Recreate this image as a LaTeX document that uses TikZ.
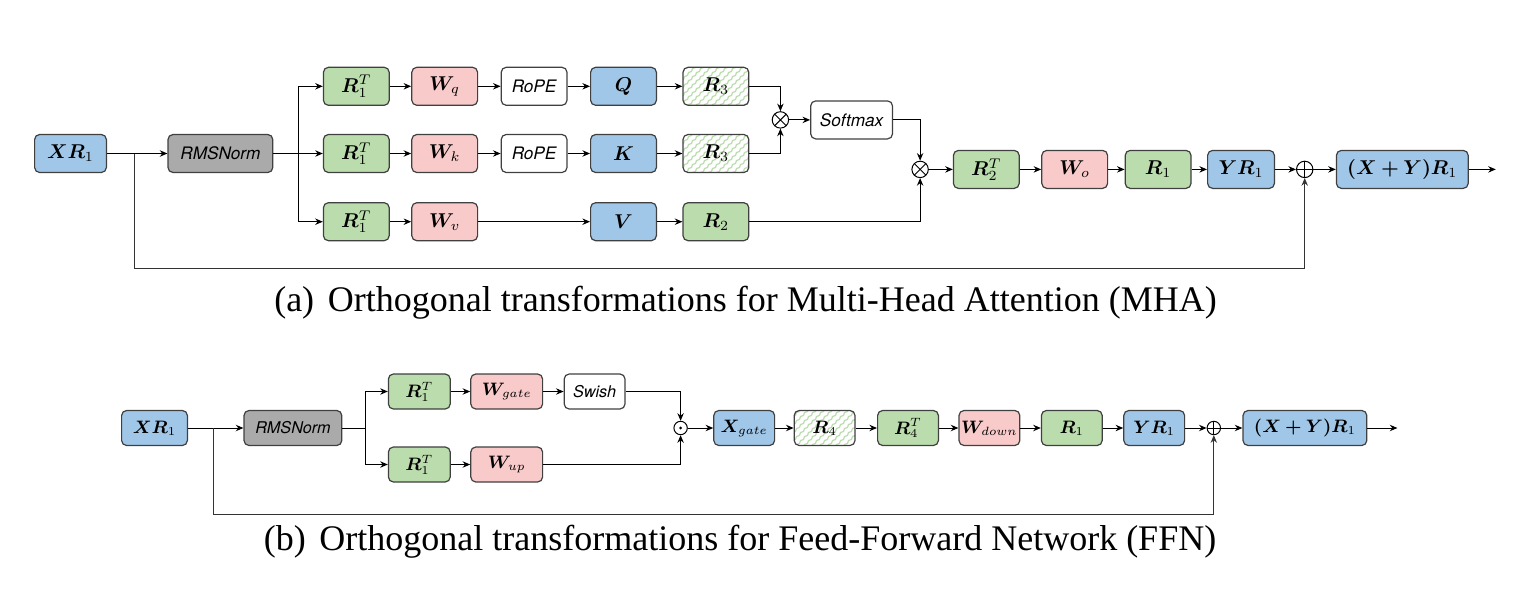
\documentclass[tikz,border=0pt]{standalone}
\usepackage{amsmath}
\usepackage{bm}
\usepackage{fontspec}
\newfontfamily\myCaptionFont{Liberation Serif}
\newfontfamily\myLabelFont{TeX Gyre Heros}
\usetikzlibrary{arrows.meta, calc, patterns, positioning}
\newlength{\myrulewidth}
\setlength{\myrulewidth}{0.6pt}
\definecolor{myblue}{RGB}{160,198,232}
\definecolor{mygreen}{RGB}{187,220,172}
\definecolor{mypink}{RGB}{248,202,202}
\definecolor{mygray}{RGB}{170,170,170}
% diagonal squiggles for the hatched boxes
\pgfdeclarepatternformonly{my waves}{\pgfqpoint{-0.5pt}{-0.5pt}}{\pgfqpoint{4.5pt}{4.5pt}}{\pgfqpoint{4pt}{4pt}}{%
  \pgfsetlinewidth{0.6pt}%
  \pgfpathmoveto{\pgfqpoint{0pt}{0pt}}%
  \pgfpathcurveto{\pgfqpoint{-0.23pt}{1.57pt}}{\pgfqpoint{2.23pt}{0.43pt}}{\pgfqpoint{2pt}{2pt}}%
  \pgfpathcurveto{\pgfqpoint{1.77pt}{3.57pt}}{\pgfqpoint{4.23pt}{2.43pt}}{\pgfqpoint{4pt}{4pt}}%
  \pgfusepath{stroke}%
}

\begin{document}
\begin{tikzpicture}[my rule/.style={line width=\myrulewidth},
                    my box/.style={
                      my rule, draw=black!75, rounded corners=2.5pt, inner sep=1pt,
                      minimum width=32.9pt, minimum height=19pt,
                      font=\fontsize{10}{12}\selectfont},
                    my small box/.style={
                      my box, minimum width=30.4pt, minimum height=17.5pt,
                      font=\fontsize{9}{11}\selectfont},
                    my blue/.style={fill=myblue},
                    my green/.style={fill=mygreen},
                    my pink/.style={fill=mypink},
                    my gray/.style={fill=mygray},
                    my wavy/.style={pattern=my waves, pattern color=mygreen},
                    my label/.style={font=\myLabelFont\itshape\fontsize{8.6}{10}\selectfont},
                    my small label/.style={font=\myLabelFont\itshape\fontsize{8.1}{9}\selectfont},
                    my caption/.style={font=\myCaptionFont\fontsize{18}{21}\selectfont,
                      inner sep=0pt, anchor=base},
                    my arrow/.style={-{Stealth[length=3.8pt, width=3.2pt]}, line width=0.5pt},
                    my line/.style={line width=0.5pt},
                    my op/.style={circle, draw, line width=0.5pt, inner sep=0pt,
                      minimum size=8.2pt, fill=white},
                    my times/.style={my op, path picture={
                      \draw[black, line width=0.5pt]
                        (path picture bounding box.north west) --
                        (path picture bounding box.south east)
                        (path picture bounding box.north east) --
                        (path picture bounding box.south west);}},
                    my plus/.style={my op, path picture={
                      \draw[black, line width=0.5pt]
                        (path picture bounding box.north) --
                        (path picture bounding box.south)
                        (path picture bounding box.west) --
                        (path picture bounding box.east);}},
                    my dot/.style={my op, minimum size=6.7pt, path picture={
                      \fill[black] (path picture bounding box.center) circle (0.8pt);}}]

\useasboundingbox (0,0) rectangle (759.5pt,-297pt);

% (a) attention
\node[my box, my blue, minimum width=35.9pt] (xa) at (35.25pt,-76.75pt) {$\bm{XR}_1$};
\node[my box, my gray, my label, minimum width=52.4pt, right=30.2pt of xa] (norma) {RMSNorm};

\node[my box, my green, right=24.7pt of norma] (rk1) {$\bm{R}_1^T$};
\node[my box, my pink, right=10.7pt of rk1] (wk) {$\bm{W}_k$};
\node[my box, my label, right=11.2pt of wk] (ropek) {RoPE};
\node[my box, my blue, right=11.2pt of ropek] (k) {$\bm{K}$};
\node[my box, my wavy, right=12.7pt of k] (rk3) {$\bm{R}_3$};

\node[my box, my green, above=14pt of rk1] (rq1) {$\bm{R}_1^T$};
\node[my box, my pink, above=14pt of wk] (wq) {$\bm{W}_q$};
\node[my box, my label, above=14pt of ropek] (ropeq) {RoPE};
\node[my box, my blue, above=14pt of k] (q) {$\bm{Q}$};
\node[my box, my wavy, above=14pt of rk3] (rq3) {$\bm{R}_3$};

\node[my box, my green, below=14.5pt of rk1] (rv1) {$\bm{R}_1^T$};
\node[my box, my pink, below=14.5pt of wk] (wv) {$\bm{W}_v$};
\node[my box, my blue, below=14.5pt of k] (v) {$\bm{V}$};
\node[my box, my green, below=14.5pt of rk3] (rv2) {$\bm{R}_2$};

\coordinate (mida) at ($(rq3.east)!0.5!(rk3.east)$);
\node[my times] (mula) at ([xshift=15.5pt]mida) {};
\node[my box, my label, minimum width=40.9pt, right=10.5pt of mula] (smax) {Softmax};
\node[my times] (mulb) at ($(smax.east)+(13.5pt,-24.75pt)$) {};
\node[my box, my green, right=12pt of mulb] (r2t) {$\bm{R}_2^T$};
\node[my box, my pink, right=10.7pt of r2t] (wo) {$\bm{W}_o$};
\node[my box, my green, right=8.2pt of wo] (ra1) {$\bm{R}_1$};
\node[my box, my blue, minimum width=33.4pt, right=7.7pt of ra1] (yra) {$\bm{YR}_1$};
\node[my plus, right=10.5pt of yra] (plusa) {};
\node[my box, my blue, minimum width=65.9pt, right=11.2pt of plusa] (outa) {$\bm{(X+Y)R}_1$};

\coordinate (skipa) at ($(xa.east)!0.45!(norma.west)$);
\coordinate (splita) at ($(norma.east)!0.5!(rk1.west)$);
\draw[my arrow] (xa) -- (norma);
\draw[my arrow] (norma) -- (rk1);
\draw[my arrow] (splita) |- (rq1);
\draw[my arrow] (splita) |- (rv1);
\foreach \a/\b in {rq1/wq, wq/ropeq, ropeq/q, q/rq3, rk1/wk, wk/ropek, ropek/k, k/rk3,
                   rv1/wv, wv/v, v/rv2, mula/smax, mulb/r2t, r2t/wo, wo/ra1, ra1/yra,
                   yra/plusa, plusa/outa}
  \draw[my arrow] (\a) -- (\b);
\draw[my arrow] (rq3) -| (mula);
\draw[my arrow] (rk3) -| (mula);
\draw[my arrow] (smax) -| (mulb);
\draw[my arrow] (rv2) -| (mulb);
\draw[my arrow] (outa.east) -- ++(13.5pt,0);
\draw[my arrow, draw=black!80] (skipa) -- ++(0,-57.25pt) -| (plusa);

\node[my caption] (capa) at (372.75pt,-155.5pt)
  {(a)\hspace{0.38em}Orthogonal transformations for Multi-Head Attention (MHA)};

% (b) feed-forward
\node[my small box, my blue, minimum width=32.9pt] (xb) at (77.25pt,-214pt) {$\bm{XR}_1$};
\node[my small box, my gray, my small label, minimum width=48.9pt, right=27.7pt of xb] (normb) {RMSNorm};

\node[my small box, my green, minimum width=30.9pt, right=22.7pt of normb, yshift=18.25pt] (rg1) {$\bm{R}_1^T$};
\node[my small box, my pink, minimum width=35.9pt, right=9.7pt of rg1] (wg) {$\bm{W}_{gate}$};
\node[my small box, my small label, right=10.2pt of wg] (swish) {Swish};
\node[my small box, my green, minimum width=30.9pt, right=22.7pt of normb, yshift=-18.25pt] (ru1) {$\bm{R}_1^T$};
\node[my small box, my pink, minimum width=35.9pt, right=9.7pt of ru1] (wu) {$\bm{W}_{up}$};

\coordinate (dotx) at ([xshift=27.5pt]swish.east);
\node[my dot] (dotb) at (dotx |- xb) {};
\node[my small box, my blue, right=12.7pt of dotb] (xg) {$\bm{X}_{gate}$};
\node[my small box, my wavy, right=9.2pt of xg] (r4) {$\bm{R}_4$};
\node[my small box, my green, right=10.7pt of r4] (r4t) {$\bm{R}_4^T$};
\node[my small box, my pink, right=9.7pt of r4t] (wd) {$\bm{W}_{down}$};
\node[my small box, my green, right=10.2pt of wd] (rb1) {$\bm{R}_1$};
\node[my small box, my blue, right=10.2pt of rb1] (yrb) {$\bm{YR}_1$};
\node[my plus, minimum size=6.7pt, right=10.7pt of yrb] (plusb) {};
\node[my small box, my blue, minimum width=61.9pt, right=10.7pt of plusb] (outb) {$\bm{(X+Y)R}_1$};

\coordinate (skipb) at ($(xb.east)!0.46!(normb.west)$);
\coordinate (splitb) at ([xshift=11.5pt]normb.east);
\draw[my arrow] (xb) -- (normb);
\draw[my line] (normb) -- (splitb);
\draw[my arrow] (splitb) |- (rg1);
\draw[my arrow] (splitb) |- (ru1);
\foreach \a/\b in {rg1/wg, wg/swish, ru1/wu, dotb/xg, xg/r4, r4/r4t, r4t/wd, wd/rb1,
                   rb1/yrb, yrb/plusb, plusb/outb}
  \draw[my arrow] (\a) -- (\b);
\draw[my arrow] (swish) -| (dotb);
\draw[my arrow] (wu) -| (dotb);
\draw[my arrow] (outb.east) -- ++(15pt,0);
\draw[my arrow, draw=black!80] (skipb) -- ++(0,-43pt) -| (plusb);

\node[my caption] (capb) at (370pt,-275pt)
  {(b)\hspace{0.38em}Orthogonal transformations for Feed-Forward Network (FFN)};
\end{tikzpicture}
\end{document}
